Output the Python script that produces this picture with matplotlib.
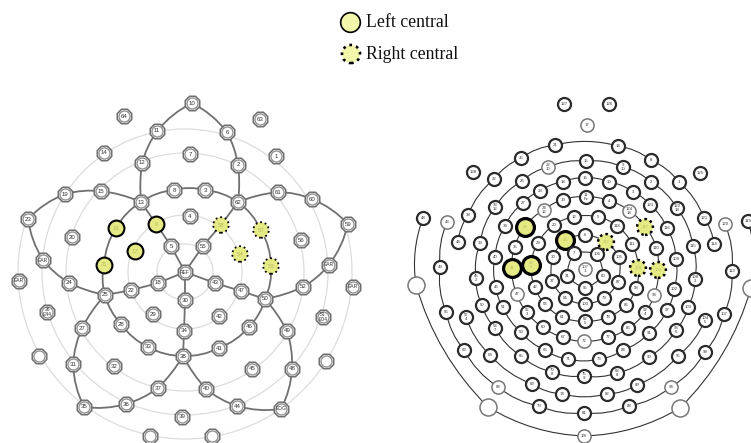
import numpy as np
import matplotlib
matplotlib.use("Agg")
import matplotlib.pyplot as plt
from matplotlib.patches import Arc, PathPatch
from matplotlib.path import Path

# === 1. Left net (electrode ids and positions) ===
left_ids = ["10", "64", "63", "11", "6", "14", "7", "1", "12", "2", "19", "15", "8", "3", "61",
            "13", "62", "60", "23", "4", "59", "16", "9", "58", "57", "20", "56", "17", "5", "55",
            "54", "EAR_a", "21", "53", "EAR_b", "REF", "EAR_c", "24", "18", "22", "43", "47", "52",
            "EAR_d", "25", "50", "30", "26", "29", "42", "51", "28", "46", "27", "34", "49", "33",
            "41", "38", "_a", "_b", "31", "32", "45", "48", "37", "40", "36", "44", "35", "EOG",
            "39", "_c", "_d"]
left_x = [192, 124, 260, 157, 227, 104, 190, 276, 142, 238, 65, 101, 174, 205, 278,
          141, 238, 312, 28, 190, 348, 116, 156, 221, 261, 72, 301, 135, 171, 203,
          240, 43, 104, 271, 329, 185, 19, 69, 158, 131, 215, 241, 303,
          353, 105, 265, 185, 47, 153, 219, 323, 121, 249, 82, 184, 287, 148,
          219, 183, 39, 326, 73, 114, 252, 292, 158, 206, 126, 237, 84, 281,
          182, 150, 212]
left_y = [103, 116, 119, 131, 132, 153, 154, 156, 163, 165, 194, 191, 190, 190, 192,
          202, 202, 199, 219, 216, 224, 228, 224, 225, 230, 237, 240, 251, 246, 246,
          254, 260, 265, 266, 265, 272, 281, 283, 283, 290, 283, 291, 287,
          287, 295, 299, 300, 312, 314, 316, 317, 324, 327, 328, 331, 331, 347,
          348, 356, 356, 361, 364, 366, 369, 369, 388, 389, 404, 406, 407, 409,
          417, 436, 436]
left_chains = [
    ["23", "19", "15", "13", "8", "3", "62", "61", "60", "59", "EAR_b", "52", "50", "47", "43",
     "REF", "18", "22", "25", "24", "EAR_a", "23"],
    ["13", "12", "11", "10", "6", "2", "62"],
    ["13", "16", "21", "25"],
    ["13", "9", "5", "REF", "55", "58", "62"],
    ["62", "57", "53", "50"],
    ["REF", "30", "34", "38"],
    ["25", "28", "33", "38", "41", "46", "50"],
    ["25", "27", "31", "35", "36", "37", "38", "40", "44", "EOG", "48", "49", "50"],
]
left_solid = ["16", "9", "17", "21"]
left_dotted = ["58", "57", "54", "53"]
left_sub = {"26": "E44", "51": "E04"}
left_rings = [28, 57, 119, 143]
left_outer_ring = 167

# === 2. Right net ===
right_ids = ["127", "126", "17", "21", "14", "25", "8", "22", "9", "15", "128", "125", "32", "26",
             "18", "16", "10", "2", "1", "23", "3", "11", "19", "4", "27", "33", "122", "123",
             "24", "124", "121", "38", "48", "43", "120", "119", "12", "5", "20", "118", "34",
             "28", "117", "116", "13", "6", "112", "111", "44", "39", "114", "115", "35", "29",
             "110", "7", "106", "30", "105", "40", "109", "49", "113", "41", "36", "104", "103",
             "107", "37", "31", "80", "55", "87", "45", "46", "42", "93", "102", "108", "47",
             "98", "54", "79", "53", "100", "86", "50", "51", "52", "97", "92", "103b", "56", "57",
             "61", "78", "62", "104b", "107b", "60", "85", "58", "59", "91", "96", "67", "77",
             "72", "63", "64", "65", "66", "84", "90", "95", "99", "71", "76", "70", "75", "83",
             "68", "69", "89", "94", "74", "82", "73", "88", "81", "_a", "_b", "_c", "_d", "1/8"]
right_x = [564, 609, 587, 555, 618, 521, 651, 548, 623, 586, 473, 700, 494, 522,
           563, 585, 609, 651, 679, 540, 633, 586, 563, 609, 523, 495, 677, 650,
           544, 629, 704, 468, 423, 447, 725, 748, 574, 598, 554, 617, 505,
           525, 645, 667, 565, 585, 606, 632, 458, 480, 714, 693, 515, 538,
           656, 574, 597, 553, 619, 495, 676, 440, 732, 512, 531, 638, 658,
           585, 552, 567, 603, 585, 618, 476, 496, 535, 636, 674, 695, 517,
           654, 565, 604, 545, 585, 626, 482, 503, 527, 667, 645, 688, 446, 466,
           562, 608, 585, 705, 724, 543, 628, 495, 521, 649, 676, 563, 608,
           584, 464, 490, 521, 545, 623, 649, 678, 705, 568, 599, 552, 584, 617,
           498, 532, 637, 671, 562, 607, 539, 629, 584, 416, 488, 680, 751, 584]
right_y = [104, 104, 125, 145, 146, 158, 160, 167, 167, 161, 172, 173, 179, 181,
           182, 178, 182, 182, 182, 191, 192, 197, 200, 201, 203, 207, 208, 205,
           210, 211, 218, 215, 218, 222, 224, 221, 217, 217, 225, 226, 226,
           227, 227, 228, 240, 235, 242, 244, 242, 243, 244, 246, 247, 243,
           248, 253, 254, 257, 257, 257, 259, 267, 271, 268, 265, 268, 270,
           269, 281, 276, 276, 288, 282, 278, 287, 287, 288, 289, 279, 294,
           295, 298, 298, 304, 304, 305, 305, 307, 312, 310, 312, 307, 312, 317,
           317, 317, 321, 320, 314, 327, 328, 328, 332, 333, 330, 337, 337,
           341, 350, 355, 356, 350, 350, 357, 356, 352, 359, 359, 372, 376, 373,
           387, 384, 385, 387, 394, 394, 406, 406, 413, 285, 407, 408, 288, 436]
right_chains = [
    ["48", "_a", "_b", "1/8", "_c", "_d", "119"],
    ["43", "49", "56", "63", "68", "73", "81", "88", "94", "99", "107b", "113", "120"],
    ["44", "38", "32", "25", "21", "14", "8", "1", "121", "114"],
    ["57", "64", "69", "74", "82", "89", "95", "104b"],
    ["39", "45", "50", "58", "65", "70", "75", "83", "90", "96", "103b", "108", "115", "122",
     "2", "9", "15", "22", "26", "33", "39"],
    ["40", "46", "51", "59", "66", "71", "76", "84", "91", "97", "102", "109", "116", "123",
     "3", "10", "16", "18", "23", "27", "34", "40"],
    ["35", "41", "47", "52", "60", "67", "72", "77", "85", "92", "98", "103", "110", "117",
     "124", "4", "11", "19", "24", "28", "35"],
    ["29", "36", "42", "53", "61", "62", "78", "86", "93", "104", "111", "118", "5", "12",
     "20", "29"],
    ["13", "6", "112", "105", "87", "79", "100", "54", "37", "30", "13"],
    ["7", "106", "80", "55", "31", "7"],
]
right_solid = ["28", "13", "41", "36"]
right_dotted = ["117", "112", "103", "104"]
right_gray = ["17", "43", "22", "24", "124", "120", "107", "47", "98", "72", "68", "94", "1/8"]
right_sub = {"22": "10", "9": "10", "33": "12", "122": "18", "24": "12", "124": "14", "11": "Fz",
             "36": "3", "107": "1", "45": "2", "108": "3", "52": "3", "92": "4", "57": "4",
             "62": "5", "104b": "5", "58": "7", "96": "6", "70": "8", "75": "9", "83": "8"}

# legend
legend_labels = ["Left central", "Right central"]

YELLOW = "#e6ea85"
LEGEND_YELLOW = "#f2f6aa"
DOTS = (0, (1, 1.6))


def pos_table(ids, xs, ys):
    return {k: (x, y) for k, x, y in zip(ids, xs, ys)}


def draw_chain(ax, chain, pos, center, color, lw, bend=0.13):
    # curve each segment a little away from the middle of the net
    for a, b in zip(chain[:-1], chain[1:]):
        p0, p1 = np.array(pos[a], float), np.array(pos[b], float)
        mid = (p0 + p1) / 2
        d = p1 - p0
        n = np.array([-d[1], d[0]]) / np.hypot(*d)
        u = mid - center
        u = u / np.hypot(*u)
        ctrl = mid + n * np.dot(u, n) * np.hypot(*d) * bend
        path = Path([p0, ctrl, p1], [Path.MOVETO, Path.CURVE3, Path.CURVE3])
        ax.add_patch(PathPatch(path, fc="none", ec=color, lw=lw, zorder=2))


def text_for(key, sub):
    name = key.split("_")[0].rstrip("b")
    if key in sub:
        return name + "\n" + sub[key]
    return name


# === 3. Figure ===
fig = plt.figure(figsize=(7.51, 4.43), dpi=100)
ax = fig.add_axes([0, 0, 1, 1])
ax.set_xlim(0, 751)
ax.set_ylim(443, 0)
ax.axis("off")

# --- left net ---
lc = np.array([185.0, 272.0])
for r in left_rings:
    ax.add_patch(Arc(lc, 2 * r, 2 * r, ec="#dcdcdc", lw=0.9, zorder=1))
ax.add_patch(Arc(lc, 2 * left_outer_ring, 2 * left_outer_ring, theta1=-18, theta2=198,
                 ec="#dcdcdc", lw=0.9, zorder=1))
lpos = pos_table(left_ids, left_x, left_y)
for chain in left_chains:
    draw_chain(ax, chain, lpos, lc, "#707070", 1.3)

plain = [k for k in left_ids if k not in left_solid + left_dotted]
px = [lpos[k][0] for k in plain]
py = [lpos[k][1] for k in plain]
ax.scatter(px, py, s=125, marker="8", fc="white", ec="#707070", lw=1.2, zorder=3)
ax.scatter(px, py, s=62, marker="o", fc="white", ec="#909090", lw=0.9, zorder=3)
ax.scatter([lpos[k][0] for k in left_solid], [lpos[k][1] for k in left_solid], s=130,
           fc=YELLOW, ec="black", lw=1.5, zorder=3)
ax.scatter([lpos[k][0] for k in left_dotted], [lpos[k][1] for k in left_dotted], s=125,
           fc=YELLOW, ec="black", lw=1.3, linestyles=DOTS, zorder=3)
for k in left_ids:
    color = "#b8bb60" if k in left_solid + left_dotted else "#333333"
    size = 3.6 if "EAR" in k or k in ("REF", "EOG") or k in left_sub else 4.4
    ax.text(*lpos[k], text_for(k, left_sub), ha="center", va="center", fontsize=size,
            family="Liberation Sans", color=color, linespacing=0.9, zorder=4)

# --- right net ---
rc = np.array([584.0, 269.0])
rpos = pos_table(right_ids, right_x, right_y)
for chain in right_chains:
    draw_chain(ax, chain, rpos, rc, "#333333", 0.8)

for k in right_ids:
    x, y = rpos[k]
    if k in right_solid:
        ax.scatter(x, y, s=165, fc=YELLOW, ec="black", lw=2.3, zorder=3)
    elif k in right_dotted:
        ax.scatter(x, y, s=130, fc=YELLOW, ec="black", lw=1.8, linestyles=(0, (1, 1.3)), zorder=3)
    elif k in right_gray or k.startswith("_"):
        ax.scatter(x, y, s=150 if k.startswith("_") else 90, fc="white", ec="#777777",
                   lw=1.1, zorder=3)
    else:
        ax.scatter(x, y, s=88, fc="white", ec="#2b2b2b", lw=1.6, zorder=3)
    color = "#b8bb60" if k in right_solid + right_dotted else "#333333"
    ax.text(x, y, text_for(k, right_sub), ha="center", va="center", fontsize=3.1,
            family="Liberation Sans", color=color, linespacing=0.85, zorder=4)

# --- legend ---
ax.scatter([350], [22], s=200, fc=LEGEND_YELLOW, ec="black", lw=1.2, zorder=3)
ax.scatter([351], [54], s=170, fc=LEGEND_YELLOW, ec="black", lw=1.9,
           linestyles=(0, (1, 1.6)), zorder=3)
ax.text(366, 22, legend_labels[0], ha="left", va="center", fontsize=12.8,
        family="Liberation Serif", color="#111111")
ax.text(366, 54, legend_labels[1], ha="left", va="center", fontsize=12.8,
        family="Liberation Serif", color="#111111")

fig.savefig("out.png", dpi=100)
